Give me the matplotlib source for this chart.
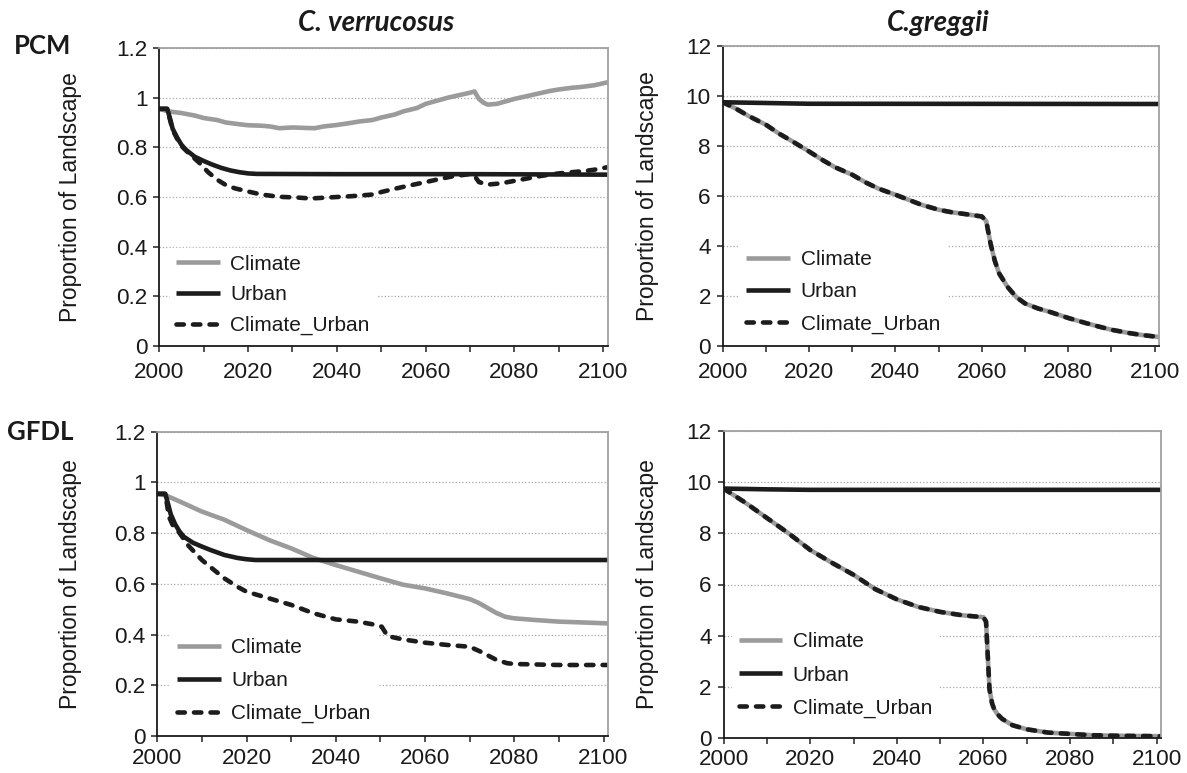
import matplotlib.pyplot as plt
from matplotlib.ticker import MultipleLocator, FuncFormatter

plt.rcParams['font.family'] = ['Liberation Sans', 'DejaVu Sans']

# ---- PCM, C. verrucosus ----
pcm_cv_climate_x = [2000, 2002, 2005, 2008, 2010, 2013, 2015, 2018, 2020, 2023, 2025, 2027, 2030, 2033, 2035,
                    2037, 2040, 2043, 2045, 2048, 2050, 2053, 2055, 2058, 2060, 2063, 2065, 2068, 2070, 2071,
                    2072, 2073, 2074, 2076, 2078, 2080, 2083, 2085, 2088, 2090, 2093, 2095, 2098, 2101]
pcm_cv_climate_y = [0.955, 0.945, 0.938, 0.928, 0.918, 0.91, 0.9, 0.893, 0.889, 0.887, 0.884, 0.877, 0.88, 0.878, 0.877,
                    0.884, 0.89, 0.898, 0.904, 0.91, 0.92, 0.932, 0.945, 0.958, 0.975, 0.99, 1.0, 1.012, 1.02, 1.025,
                    0.995, 0.98, 0.972, 0.975, 0.985, 0.995, 1.007, 1.015, 1.027, 1.033, 1.04, 1.043, 1.05, 1.062]
pcm_cv_urban_x = [2000, 2001.8, 2002.5, 2003, 2004, 2005, 2006, 2008, 2010, 2012, 2014, 2016, 2018, 2020, 2022,
                  2040, 2070, 2101]
pcm_cv_urban_y = [0.955, 0.955, 0.91, 0.875, 0.84, 0.81, 0.79, 0.762, 0.745, 0.73, 0.717, 0.707, 0.7, 0.695, 0.693,
                  0.692, 0.692, 0.69]
pcm_cv_cu_x = [2000, 2001.8, 2002.5, 2003, 2004, 2005, 2007, 2009, 2011, 2013, 2015, 2017, 2020, 2023, 2026,
               2028, 2031, 2034, 2037, 2040, 2043, 2046, 2048, 2050, 2053, 2056, 2060, 2063, 2066, 2069,
               2070, 2071, 2072, 2074, 2077, 2080, 2083, 2086, 2090, 2093, 2096, 2098, 2101]
pcm_cv_cu_y = [0.955, 0.955, 0.905, 0.87, 0.835, 0.805, 0.77, 0.738, 0.7, 0.67, 0.648, 0.635, 0.622, 0.61, 0.603,
               0.6, 0.598, 0.594, 0.597, 0.6, 0.603, 0.607, 0.61, 0.62, 0.633, 0.645, 0.66, 0.672, 0.683, 0.69,
               0.693, 0.685, 0.66, 0.65, 0.655, 0.665, 0.675, 0.685, 0.695, 0.7, 0.705, 0.71, 0.72]

# ---- PCM, C. greggii ----
pcm_cg_climate_x = [2000, 2003, 2006, 2010, 2013, 2016, 2020, 2023, 2026, 2030, 2033, 2036, 2040, 2043, 2046,
                    2050, 2053, 2056, 2060, 2061, 2062, 2063, 2064, 2066, 2068, 2070, 2073, 2076, 2080, 2084,
                    2087, 2090, 2094, 2097, 2101]
pcm_cg_climate_y = [9.75, 9.5, 9.2, 8.85, 8.5, 8.2, 7.78, 7.45, 7.15, 6.85, 6.55, 6.3, 6.05, 5.85, 5.65,
                    5.45, 5.35, 5.28, 5.18, 5.0, 4.1, 3.4, 2.9, 2.35, 1.95, 1.7, 1.5, 1.35, 1.12, 0.92,
                    0.78, 0.65, 0.52, 0.44, 0.36]
pcm_cg_urban_x = [2000, 2010, 2020, 2101]
pcm_cg_urban_y = [9.75, 9.72, 9.69, 9.68]
pcm_cg_cu_x = pcm_cg_climate_x
pcm_cg_cu_y = pcm_cg_climate_y

# ---- GFDL, C. verrucosus ----
gfdl_cv_climate_x = [2000, 2002, 2005, 2010, 2015, 2020, 2025, 2030, 2035, 2040, 2045, 2050, 2055, 2060, 2065,
                     2070, 2072, 2074, 2076, 2078, 2080, 2085, 2090, 2095, 2101]
gfdl_cv_climate_y = [0.955, 0.948, 0.925, 0.885, 0.853, 0.812, 0.773, 0.74, 0.702, 0.674, 0.648, 0.622, 0.597,
                     0.582, 0.562, 0.54, 0.525, 0.505, 0.485, 0.47, 0.464, 0.457, 0.451, 0.448, 0.444]
gfdl_cv_urban_x = [2000, 2001.8, 2002.5, 2003, 2004, 2005, 2006, 2008, 2010, 2012, 2015, 2018, 2020, 2022,
                   2050, 2101]
gfdl_cv_urban_y = [0.955, 0.955, 0.91, 0.875, 0.835, 0.806, 0.785, 0.762, 0.747, 0.733, 0.714, 0.702, 0.697,
                   0.694, 0.694, 0.694]
gfdl_cv_cu_x = [2000, 2001.8, 2002.6, 2003.5, 2005, 2007, 2010, 2012, 2015, 2018, 2020, 2025, 2030, 2035, 2040,
                2045, 2049, 2050.3, 2051.6, 2055, 2060, 2065, 2070, 2072.4, 2075.8, 2078.4, 2080, 2090, 2101]
gfdl_cv_cu_y = [0.955, 0.955, 0.865, 0.83, 0.8, 0.75, 0.694, 0.665, 0.622, 0.588, 0.569, 0.543, 0.517, 0.484,
                0.46, 0.451, 0.438, 0.431, 0.394, 0.381, 0.368, 0.359, 0.352, 0.333, 0.302, 0.287, 0.284,
                0.28, 0.28]

# ---- GFDL, C. greggii ----
gfdl_cg_climate_x = [2000, 2005, 2010, 2015, 2020, 2025, 2030, 2035, 2040, 2045, 2050, 2055, 2060, 2060.6,
                     2061, 2061.4, 2062, 2062.5, 2063.3, 2064.3, 2066.7, 2070, 2075, 2080, 2085, 2090, 2095, 2101]
gfdl_cg_climate_y = [9.75, 9.2, 8.6, 8.0, 7.35, 6.85, 6.38, 5.82, 5.42, 5.12, 4.93, 4.8, 4.72, 4.55,
                     3.2, 1.9, 1.35, 1.12, 0.92, 0.75, 0.5, 0.34, 0.21, 0.16, 0.11, 0.09, 0.08, 0.07]
gfdl_cg_urban_x = [2000, 2010, 2020, 2101]
gfdl_cg_urban_y = [9.75, 9.72, 9.7, 9.7]
gfdl_cg_cu_x = gfdl_cg_climate_x
gfdl_cg_cu_y = gfdl_cg_climate_y

labels = ['Climate', 'Urban', 'Climate_Urban']
W, H = 1187, 773

fig = plt.figure(figsize=(W / 100, H / 100), dpi=100)


def px_axes(left, top, right, bottom):
    return fig.add_axes([left / W, 1 - bottom / H, (right - left) / W, (bottom - top) / H])


def panel(ax, climate, urban, cu, ymax, ystep, ylab_x, leg_anchor, leg_spacing, xpad):
    ax.plot(*climate, color='#9b9b9b', lw=3.3, solid_capstyle='butt', label=labels[0])
    ax.plot(*urban, color='#1c1c1c', lw=3.3, solid_capstyle='butt', label=labels[1])
    ax.plot(*cu, color='#1c1c1c', lw=3.3, linestyle=(0, (1.6, 2.0)), dash_capstyle='round',
            label=labels[2])
    ax.set_xlim(2000, 2101)
    ax.set_ylim(0, ymax)
    ax.xaxis.set_major_locator(MultipleLocator(20))
    ax.xaxis.set_minor_locator(MultipleLocator(10))
    ax.yaxis.set_major_locator(MultipleLocator(ystep))
    ax.yaxis.set_major_formatter(FuncFormatter(lambda v, p: '{:g}'.format(round(v, 2))))
    ax.tick_params(axis='both', which='both', direction='out', length=4.5, width=1.1,
                   color='#222222', labelsize=16.2, pad=4, labelcolor='#1a1a1a')
    ax.tick_params(axis='x', pad=xpad)
    ax.grid(axis='y', linestyle=':', color='#a8a8a8', lw=0.9)
    ax.set_axisbelow(True)
    for s in ['top', 'right']:
        ax.spines[s].set_color('#a0a0a0')
        ax.spines[s].set_linewidth(1.3)
    for s in ['left', 'bottom']:
        ax.spines[s].set_color('#1a1a1a')
        ax.spines[s].set_linewidth(1.3)
    ax.set_ylabel('Proportion of Landscape', fontsize=16.5, color='#1a1a1a')
    ax.yaxis.set_label_coords(ylab_x, 0.5)
    leg = ax.legend(loc='lower left', bbox_to_anchor=leg_anchor, fontsize=15, frameon=True,
                    fancybox=False, framealpha=1, facecolor='white', edgecolor='white',
                    borderpad=0.3, borderaxespad=0, handlelength=2.1, handletextpad=0.5,
                    labelspacing=leg_spacing)
    for t in leg.get_texts():
        t.set_color('#1a1a1a')


ax1 = px_axes(159.3, 48, 607.7, 346)
panel(ax1, (pcm_cv_climate_x, pcm_cv_climate_y), (pcm_cv_urban_x, pcm_cv_urban_y),
      (pcm_cv_cu_x, pcm_cv_cu_y), 1.2, 0.2, -0.172, (0.023, 0.015), 0.56, 7)

ax2 = px_axes(722.7, 46, 1159, 346)
panel(ax2, (pcm_cg_climate_x, pcm_cg_climate_y), (pcm_cg_urban_x, pcm_cg_urban_y),
      (pcm_cg_cu_x, pcm_cg_cu_y), 12, 2, -0.147, (0.04, 0.02), 0.64, 7)

ax3 = px_axes(157.3, 431.7, 608, 736)
panel(ax3, (gfdl_cv_climate_x, gfdl_cv_climate_y), (gfdl_cv_urban_x, gfdl_cv_urban_y),
      (gfdl_cv_cu_x, gfdl_cv_cu_y), 1.2, 0.2, -0.167, (0.03, 0.022), 0.67, 4.5)

ax4 = px_axes(723.6, 431, 1161, 738)
panel(ax4, (gfdl_cg_climate_x, gfdl_cg_climate_y), (gfdl_cg_urban_x, gfdl_cg_urban_y),
      (gfdl_cg_cu_x, gfdl_cg_cu_y), 12, 2, -0.147, (0.02, 0.045), 0.68, 3.5)

title_font = dict(family=['Lato', 'DejaVu Sans'], fontweight='bold', color='#1a1a1a')
fig.text(376 / W, 1 - 23 / H, 'C. verrucosus', ha='center', va='center', style='italic',
         fontsize=20, **title_font)
fig.text(938 / W, 1 - 23 / H, 'C.greggii', ha='center', va='center', style='italic',
         fontsize=20, **title_font)
fig.text(14 / W, 1 - 46 / H, 'PCM', ha='left', va='center', fontsize=18.5, **title_font)
fig.text(7 / W, 1 - 432 / H, 'GFDL', ha='left', va='center', fontsize=18.5, **title_font)

fig.savefig('out.png', dpi=100)
